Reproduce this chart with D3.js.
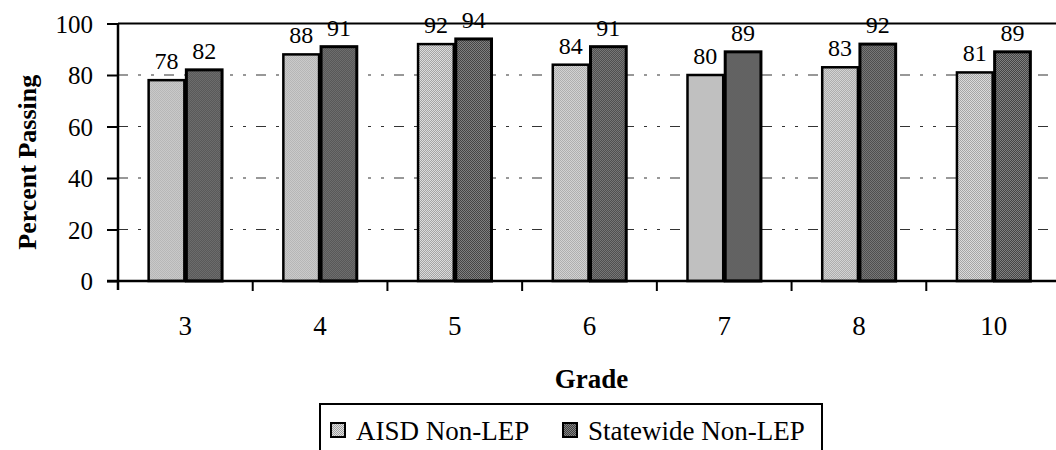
<!DOCTYPE html>
<html><head><meta charset="utf-8">
<script src="https://cdn.jsdelivr.net/npm/d3@7"></script>
<style>body{margin:0;background:#fff}svg{display:block}</style>
</head><body><svg id="c" width="1056" height="450"></svg>
<script>
const grades = ["3","4","5","6","7","8","10"];
const seriesNames = ["AISD Non-LEP","Statewide Non-LEP"];
const aisd = [78,88,92,84,80,83,81];
const statewide = [82,91,94,91,89,92,89];
const yTicks = [0,20,40,60,80,100];

const svg = d3.select("#c");
const L = 118, R = 1061, T = 23.5, B = 281;

const defs = svg.append("defs");
function checker(id, a, b){
  const p = defs.append("pattern").attr("id",id).attr("width",2).attr("height",2).attr("patternUnits","userSpaceOnUse");
  p.append("rect").attr("width",2).attr("height",2).attr("fill",a);
  p.append("rect").attr("width",1).attr("height",1).attr("fill",b);
  p.append("rect").attr("x",1).attr("y",1).attr("width",1).attr("height",1).attr("fill",b);
}
checker("pA","#e0e0e0","#a0a0a0");
checker("pS","#404040","#858585");
const fills = ["url(#pA)","url(#pS)"];

const x = d3.scaleBand().domain(grades).range([L,R]).paddingInner(0.44).paddingOuter(0.22);
const xs = d3.scaleBand().domain(seriesNames).range([0,x.bandwidth()]);
const y = d3.scaleLinear().domain([0,100]).range([B,T]);

// grid
svg.append("g").selectAll("line").data(yTicks.filter(d=>d>0&&d<100)).join("line")
  .attr("x1",L).attr("x2",R).attr("y1",d=>y(d)).attr("y2",d=>y(d))
  .attr("stroke","#333").attr("stroke-width",1.2).attr("stroke-dasharray","10,10,3,10,3,10");
// top frame line
svg.append("line").attr("x1",L).attr("x2",R).attr("y1",y(100)).attr("y2",y(100)).attr("stroke","#000").attr("stroke-width",2);

const data = grades.map((g,i)=>({g, vals:[aisd[i], statewide[i]]}));
const grp = svg.append("g").selectAll("g").data(data).join("g").attr("transform",d=>`translate(${x(d.g)},0)`);
grp.selectAll("rect").data(d=>d.vals.map((v,j)=>({v,s:seriesNames[j],j}))).join("rect")
  .attr("x",d=>xs(d.s)+1).attr("width",xs.bandwidth()-2)
  .attr("y",d=>y(d.v)).attr("height",d=>B-y(d.v))
  .attr("fill",d=>fills[d.j]).attr("stroke","#000").attr("stroke-width",d=>d.j?3:2.5);
grp.selectAll("text").data(d=>d.vals.map((v,j)=>({v,s:seriesNames[j]}))).join("text")
  .attr("x",d=>xs(d.s)+xs.bandwidth()/2).attr("y",d=>y(d.v)-11)
  .attr("text-anchor","middle").style("font-size","24px").text(d=>d.v);

// axes
const yAxis = svg.append("g").attr("transform",`translate(${L},0)`)
  .call(d3.axisLeft(y).tickValues(yTicks).tickSize(11).tickSizeOuter(0).tickPadding(14));
yAxis.select(".domain").attr("stroke-width",2.5).attr("d",`M0,${T}V${B+9}`);
yAxis.selectAll(".tick line").attr("stroke-width",2);
yAxis.selectAll("text").style("font-size","25px").attr("dy","0.34em");

const xAxis = svg.append("g").attr("transform",`translate(0,${B})`);
xAxis.append("line").attr("x1",L-11).attr("x2",R).attr("stroke","#000").attr("stroke-width",2.5);
xAxis.selectAll("line.t").data(grades.slice(1)).join("line").attr("class","t")
  .attr("x1",g=>x(g)-x.step()*x.paddingInner()/2).attr("x2",g=>x(g)-x.step()*x.paddingInner()/2)
  .attr("y1",0).attr("y2",10).attr("stroke","#000").attr("stroke-width",2);
xAxis.selectAll("text").data(grades).join("text")
  .attr("x",g=>x(g)+x.bandwidth()/2).attr("y",54)
  .attr("text-anchor","middle").style("font-size","27px").text(g=>g);

// titles
svg.append("text").attr("transform",`translate(36,${(T+B)/2+10}) rotate(-90)`)
  .attr("text-anchor","middle").style("font-size","26px").style("font-weight","bold").text("Percent Passing");
svg.append("text").attr("x",(L+R)/2+2).attr("y",388).attr("text-anchor","middle")
  .style("font-size","27px").style("font-weight","bold").text("Grade");

// legend
const lg = svg.append("g");
lg.append("rect").attr("x",320).attr("y",404).attr("width",502).attr("height",60).attr("fill","#fff").attr("stroke","#000").attr("stroke-width",2);
const lx = [331, 563];
seriesNames.forEach((s,i)=>{
  lg.append("rect").attr("x",lx[i]).attr("y",423).attr("width",14).attr("height",14).attr("fill",fills[i]).attr("stroke","#000").attr("stroke-width",2);
  lg.append("text").attr("x",lx[i]+25).attr("y",440).style("font-size","27px").text(s);
});

svg.selectAll("text").style("font-family",'"Liberation Serif", "Times New Roman", serif').style("fill","#000");
</script></body></html>
